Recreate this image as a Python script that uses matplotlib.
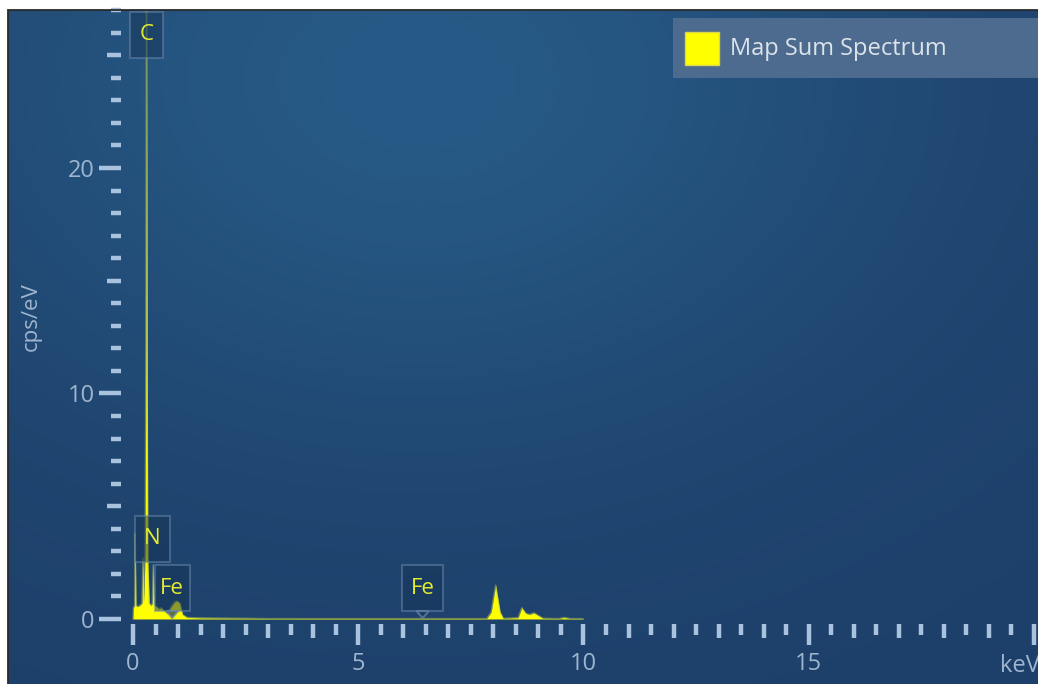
import numpy as np
import matplotlib.pyplot as plt
import matplotlib.transforms as mtransforms
from matplotlib.ticker import MultipleLocator, FixedLocator
from matplotlib.patches import Rectangle, Polygon

plt.rcParams['font.family'] = ['Open Sans', 'DejaVu Sans']

# EDS sum spectrum: energy (keV) vs intensity (cps/eV)
energy_kev = [0.00, 0.01, 0.035, 0.05, 0.065, 0.10, 0.15, 0.20, 0.22, 0.24,
              0.27, 0.285, 0.30, 0.315, 0.33, 0.36, 0.40, 0.43, 0.45, 0.47,
              0.52, 0.58, 0.62, 0.70, 0.76, 0.85, 0.92, 0.98, 1.04, 1.10,
              1.20, 1.50, 2.00, 3.00, 4.00, 5.00, 6.00, 6.40, 7.00, 7.85,
              7.95, 8.05, 8.15, 8.22, 8.55, 8.63, 8.72, 8.80, 8.90, 9.00,
              9.10, 9.45, 9.57, 9.70, 9.95, 10.00]
cps_per_ev = [0.00, 0.50, 0.60, 3.80, 0.60, 0.55, 0.60, 0.70, 2.70, 0.80,
              3.00, 12.0, 28.0, 12.0, 2.50, 0.70, 0.60, 0.70, 2.40, 0.60,
              0.55, 0.45, 0.50, 0.35, 0.25, 0.55, 0.75, 0.80, 0.70, 0.20,
              0.07, 0.05, 0.04, 0.02, 0.02, 0.02, 0.02, 0.02, 0.02, 0.02,
              0.30, 1.50, 0.30, 0.03, 0.06, 0.50, 0.25, 0.20, 0.27, 0.15,
              0.03, 0.02, 0.07, 0.02, 0.02, 0.00]

# element markers: text, box centre (keV, cps/eV), box width (px), pointer
marker_text = ['C', 'N', 'Fe', 'Fe']
marker_x = [0.30, 0.43, 0.87, 6.43]
marker_y = [25.9, 3.55, 1.37, 1.37]
marker_w = [33, 35, 35, 41]
marker_pointer = [False, False, True, True]

series_name = 'Map Sum Spectrum'
y_ticks = [0, 10, 20]
x_ticks = [0, 5, 10, 15, 20]
x_tick_labels = ['0', '5', '10', '15', '']

W, H = 1038, 684
tick_col = '#a9c2de'
label_col = '#9fb5cf'
box_fc = '#183556'
box_ec = '#6a88ab'

fig = plt.figure(figsize=(W / 100, H / 100), dpi=100, facecolor='white')

# dark blue panel with a soft glow near the top
bg = fig.add_axes([8 / W, 0, 1030 / W, 674 / H])
yy, xx = np.mgrid[0:674, 0:1030]
r = np.hypot((xx - 410) / 500, (yy - 70) / 360)
glow = np.exp(-r ** 2)
edge = np.array([29, 64, 106]) / 255
centre = np.array([39, 90, 134]) / 255
bg.imshow(edge + (centre - edge) * glow[..., None], aspect='auto',
          interpolation='bilinear')
bg.set_axis_off()
fig.add_artist(Rectangle((8 / W, -0.01), 1.0, 674 / H + 0.01,
                         transform=fig.transFigure, fill=False,
                         ec='#2a2a2a', lw=1.3))

ax = fig.add_axes([121 / W, 60 / H, 917 / W, 614 / H])
ax.patch.set_alpha(0)
ax.set_xlim(-0.266, -0.266 + 917 / 45.05)
ax.set_ylim(-0.222, -0.222 + 614 / 22.55)

ax.fill_between(energy_kev, cps_per_ev, 0, color='#ffff00', lw=0, zorder=2)
ax.plot(energy_kev, cps_per_ev, color='#b8c858', lw=1.0, alpha=0.5, zorder=2)

for s in ax.spines.values():
    s.set_visible(False)

ax.xaxis.set_major_locator(FixedLocator(x_ticks))
ax.xaxis.set_minor_locator(MultipleLocator(0.5))
ax.yaxis.set_major_locator(FixedLocator(y_ticks))
ax.yaxis.set_minor_locator(MultipleLocator(1))
ax.set_xticklabels(x_tick_labels)
ax.tick_params(which='both', direction='out', color=tick_col, width=3.2,
               labelcolor=label_col, labelsize=17)
ax.tick_params(axis='x', which='major', length=15, pad=5)
ax.tick_params(axis='x', which='minor', length=8)
ax.tick_params(axis='y', which='major', length=16, pad=3)
ax.tick_params(axis='y', which='minor', length=7)

# medium ticks on whole keV and every 5 cps/eV
for loc, t in zip(ax.xaxis.get_minorticklocs(), ax.xaxis.get_minor_ticks()):
    if abs(loc - round(loc)) < 1e-6:
        t.tick1line.set_markersize(10)
for loc, t in zip(ax.yaxis.get_minorticklocs(), ax.yaxis.get_minor_ticks()):
    if abs(loc % 5) < 1e-6:
        t.tick1line.set_markersize(10)

# element label boxes, sized in pixels around the anchor point
box_h = 46
for txt, x, y, w, ptr in zip(marker_text, marker_x, marker_y, marker_w,
                             marker_pointer):
    tr = (mtransforms.Affine2D().scale(1 / fig.dpi) + fig.dpi_scale_trans
          + mtransforms.ScaledTranslation(x, y, ax.transData))
    ax.add_patch(Rectangle((-w / 2, -box_h / 2), w, box_h, transform=tr,
                           fc=box_fc, ec=box_ec, lw=1.5, alpha=0.5,
                           zorder=4, clip_on=False))
    if ptr:
        ax.add_patch(Polygon([(-6, -box_h / 2), (0, -box_h / 2 - 7),
                              (6, -box_h / 2)], transform=tr, fc=box_fc,
                             ec=box_ec, lw=1.5, alpha=0.7, zorder=4))
    ax.text(x, y, txt, color='#e4ec2e', fontsize=16, ha='center',
            va='center', zorder=5)

fig.text(31 / W, 1 - 317 / H, 'cps/eV', rotation=90, ha='center',
         va='center', color=label_col, fontsize=16)
fig.text(1000 / W, 1 - 666 / H, 'keV', ha='left', va='center',
         color=label_col, fontsize=17)

# legend panel
fig.add_artist(Rectangle((673 / W, 1 - 78 / H), 400 / W, 60 / H,
                         transform=fig.transFigure, fc='#4c6b8f', ec='none'))
fig.add_artist(Rectangle((685 / W, 1 - 65 / H), 34 / W, 33 / H,
                         transform=fig.transFigure, fc='#ffff00',
                         ec='#d8d84a', lw=1))
fig.text(730 / W, 1 - 49 / H, series_name, ha='left', va='center',
         color='#dde3ea', fontsize=17)

fig.savefig('out.png', dpi=100, facecolor='white')
